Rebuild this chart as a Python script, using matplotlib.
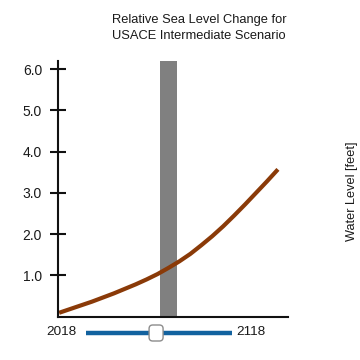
import matplotlib
matplotlib.use("Agg")
import matplotlib.pyplot as plt
from matplotlib.patches import FancyBboxPatch

plt.rcParams["font.family"] = ["Liberation Sans", "DejaVu Sans"]

# data
years = [2018, 2023, 2028, 2033, 2038, 2043, 2048, 2053, 2058, 2063, 2068,
         2073, 2078, 2083, 2088, 2093, 2098, 2103, 2108, 2113, 2118]
water_level = [0.09, 0.18, 0.27, 0.36, 0.46, 0.56, 0.67, 0.78, 0.90, 1.03, 1.18,
               1.34, 1.52, 1.73, 1.95, 2.19, 2.45, 2.72, 3.00, 3.28, 3.57]
y_ticks = [1, 2, 3, 4, 5, 6]
y_tick_labels = ["1.0", "2.0", "3.0", "4.0", "5.0", "6.0"]
selected_year = 2068
bar_halfwidth = 4
slider_range = [2018, 2118]

W = H = 360
fig = plt.figure(figsize=(3.6, 3.6), dpi=100)


def px_axes(x0, y0, x1, y1):
    # pixel box (top-left origin) -> figure axes
    return fig.add_axes([x0 / W, 1 - y1 / H, (x1 - x0) / W, (y1 - y0) / H])


ax = px_axes(58, 61, 288, 316.5)
ax.set_xlim(2017.5, 2122.6)
ax.set_ylim(0, 6.2)

ax.axvspan(selected_year - bar_halfwidth, selected_year + bar_halfwidth,
           color="#808080", lw=0, zorder=1)
ax.plot(years, water_level, color="#8a3a08", lw=3, solid_capstyle="butt",
        solid_joinstyle="round", zorder=2)

for side in ("top", "right"):
    ax.spines[side].set_visible(False)
for side in ("left", "bottom"):
    ax.spines[side].set_linewidth(1.5)
    ax.spines[side].set_color("#111111")
ax.set_xticks([])
ax.set_yticks(y_ticks)
ax.set_yticklabels(y_tick_labels, fontsize=10, color="#1a1a1a")
ax.tick_params(axis="y", direction="inout", length=11, width=1.5, pad=6,
               color="#111111")

fig.text(199 / W, 1 - 20 / H, "Relative Sea Level Change for",
         ha="center", va="center", fontsize=9.3, color="#1a1a1a")
fig.text(199 / W, 1 - 36 / H, "USACE Intermediate Scenario",
         ha="center", va="center", fontsize=9.3, color="#1a1a1a")
fig.text(352 / W, 1 - 191 / H, "Water Level [feet]", rotation=90,
         ha="center", va="center", fontsize=9.2, color="#1a1a1a")

# slider under the chart
sx = px_axes(86, 323, 232, 343)
sx.set_xlim(*slider_range)
half = 20 / (146 / 100) / 2
sx.set_ylim(-half, half)
sx.axis("off")
sx.plot(slider_range, [0, 0], color="#12629f", lw=3.2, solid_capstyle="butt")
hw, hh = 14 / 1.46, 16 / 1.46
sx.add_patch(FancyBboxPatch((selected_year - 2 - hw / 2, -hh / 2), hw, hh,
                            boxstyle="round,pad=0,rounding_size=2.5",
                            fc="white", ec="#8c8c8c", lw=1, zorder=3))
fig.text(77 / W, 1 - 332 / H, str(slider_range[0]), ha="right", va="center",
         fontsize=9.7, color="#1a1a1a")
fig.text(236 / W, 1 - 332 / H, str(slider_range[1]), ha="left", va="center",
         fontsize=9.7, color="#1a1a1a")

fig.savefig("out.png", dpi=100)
